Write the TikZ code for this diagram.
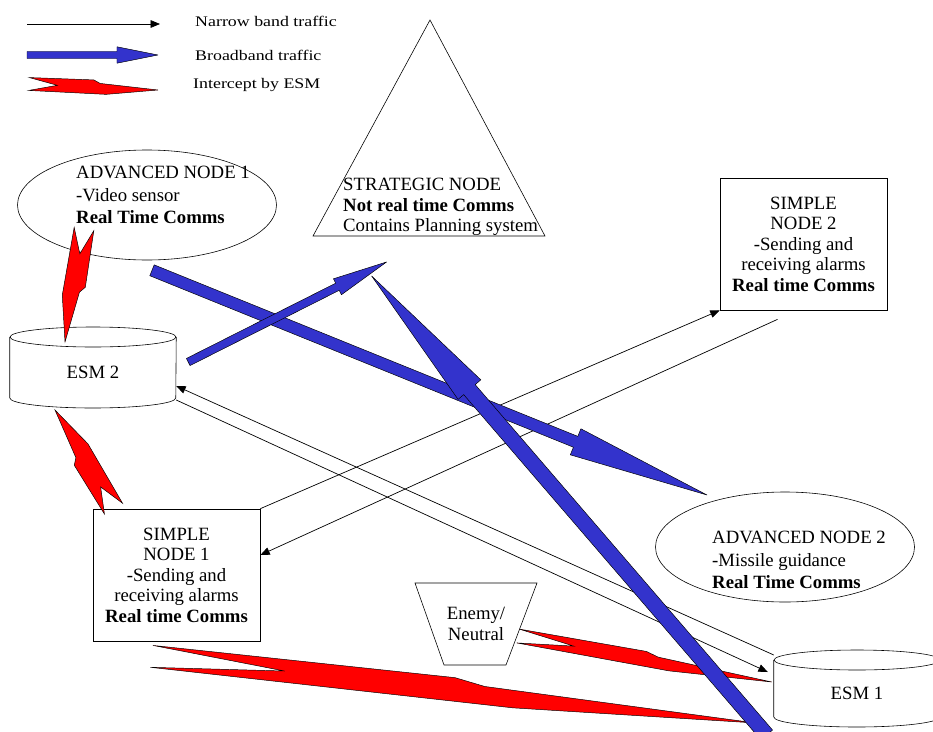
\documentclass[tikz,border=0pt]{standalone}
\usepackage{fontspec}
\setmainfont{Liberation Serif}
\newfontfamily\legendfont{Liberation Serif}[FakeStretch=1.22]
\usetikzlibrary{calc,arrows.meta,shapes.geometric}

\definecolor{bandblue}{RGB}{51,51,204}
\definecolor{esmred}{RGB}{255,0,0}

\tikzset{
  nodetext/.style={font=\fontsize{16}{18}\selectfont, inner sep=0pt},
  legtext/.style={font=\legendfont\fontsize{12.5}{14}\selectfont, anchor=west, inner sep=0pt},
  simplebox/.style={draw, line width=0.6pt, minimum width=5.01cm, minimum height=3.96cm,
    align=center, font=\fontsize{16}{17.5}\selectfont},
  advnode/.style={draw, ellipse, line width=0.5pt, minimum width=7.77cm, minimum height=3.3cm},
  esmnode/.style={minimum width=4.98cm, nodetext},
  outline/.style={line width=0.5pt},
  narrow/.style={line width=0.6pt, -{Triangle[length=8pt,width=6.5pt]}},
  bandarrow/.style={fill=bandblue, draw=black, line width=0.4pt, line join=round},
  intercept/.style={fill=esmred, draw=black, line width=0.4pt},
}

% broadband arrow: from, to, shaft half width, head half width, head length
\newcommand{\bandarr}[5]{%
  \filldraw[bandarrow] ($(#1)!#3!90:(#2)$) -- ($(#2)!#5!(#1)!#3!-90:(#1)$)
    -- ($(#2)!#5!(#1)!#4!-90:(#1)$) -- (#2) -- ($(#2)!#5!(#1)!#4!90:(#1)$)
    -- ($(#2)!#5!(#1)!#3!90:(#1)$) -- ($(#1)!#3!-90:(#2)$) -- cycle;}

% intercept bolt: notched end, tip, half width
\newcommand{\boltarr}[3]{%
  \filldraw[intercept] ($(#1)!#3!90:(#2)$) -- ($(#1)!0.22!(#2)$) -- ($(#1)!#3!-90:(#2)$)
    -- ($(#1)!0.6!(#2)!1.05*#3!-90:(#2)$) -- (#2)
    -- ($(#1)!0.55!(#2)!0.6*#3!90:(#2)$) -- ($(#1)!0.5!(#2)!1.1*#3!90:(#2)$) -- cycle;}

% esm cylinder round a node: node, top offset, bottom offset
\newcommand{\esmcyl}[3]{%
  \draw[outline] ($(#1.west)+(0,#2)$) -- ($(#1.west)+(0,#3)$)
    arc[start angle=180, end angle=360, x radius=2.49cm, y radius=0.3cm]
    -- ($(#1.east)+(0,#2)$);
  \draw[outline] ($(#1.center)+(0,#2)$) ellipse[x radius=2.49cm, y radius=0.3cm];}

\begin{document}
\begin{tikzpicture}[x=0.03cm, y=-0.03cm]
  \useasboundingbox (0,0) rectangle (933,731);

  %% legend
  \node[legtext] (lgnarrow) at (195,21) {Narrow band traffic};
  \node[legtext] (lgbroad) at (195,55) {Broadband traffic};
  \node[legtext] (lgesm) at (193,85) {Intercept by ESM};
  \coordinate (lg1a) at (27,24);  \coordinate (lg1b) at (160,24);
  \coordinate (lg2a) at (27,55);  \coordinate (lg2b) at (158,55);
  \coordinate (lg3a) at (29,84);  \coordinate (lg3b) at (158,90);

  %% nodes
  \node[advnode] (adv1) at (147,205) {};
    \node[nodetext, align=left, anchor=west, font=\fontsize{16}{19}\selectfont] (adv1txt) at (76,195)
      {ADVANCED NODE 1\\-Video sensor\\\textbf{Real Time Comms}};
  \node[advnode] (adv2) at (785,547) {};
    \node[nodetext, align=left, anchor=west, font=\fontsize{16}{19}\selectfont] (adv2txt) at (712,560)
      {ADVANCED NODE 2\\-Missile guidance\\\textbf{Real Time Comms}};

  \coordinate (strtop) at (430,20);
  \coordinate (strleft) at (313,236);
  \coordinate (strright) at (545,236);
  \draw[outline] (strtop) -- (strleft) -- (strright) -- cycle;
    \node[nodetext, align=left, anchor=west, font=\fontsize{16}{17.5}\selectfont] (strat) at (343,207)
      {STRATEGIC NODE\\\textbf{Not real time Comms}\\Contains Planning system};

  \node[simplebox] (simple1) at (176.5,575)
    {SIMPLE\\NODE 1\\-Sending and\\receiving alarms\\\textbf{Real time Comms}};
  \node[simplebox] (simple2) at (803.5,244)
    {SIMPLE\\NODE 2\\-Sending and\\receiving alarms\\\textbf{Real time Comms}};

  \node[esmnode] (esm2) at (93,372) {ESM 2};
    \esmcyl{esm2}{-35}{26}
  \node[esmnode] (esm1) at (857,693) {ESM 1};
    \esmcyl{esm1}{-33}{24}

  \node[nodetext, align=center] (enemy) at (476,624) {Enemy/\\Neutral};
    \draw[outline] ($(enemy)+(-61,-41)$) -- ($(enemy)+(61,-41)$) -- ($(enemy)+(30,41)$)
      -- ($(enemy)+(-32,41)$) -- cycle;

  %% narrow band
  \draw[narrow] (simple1.north east) -- (simple2.south west);
  \draw[narrow] ($(simple2.south)+(-26,9)$) -- ($(simple1.east)+(0,-20)$);
  \draw[narrow] ($(esm1.west)+(0,-38)$) -- ($(esm2.east)+(0,14)$);
  \draw[narrow] ($(esm2.east)+(0,28)$) -- ($(esm1.west)+(-6,-21)$);
  \draw[narrow] (lg1a) -- (lg1b);

  %% intercept
  \coordinate (ia1) at ($(adv1.center)+(-63,24)$);
  \coordinate (ia2) at ($(esm2.center)+(-28,-30)$);
  \boltarr{ia1}{ia2}{8.5pt}
  \coordinate (ib1) at ($(simple1.north)+(-63,0)$);
  \coordinate (ib2) at ($(esm2.center)+(-38,38)$);
  \boltarr{ib1}{ib2}{9pt}
  \coordinate (en1) at ($(enemy.center)+(42,12)$);
  \coordinate (en2) at ($(esm1.west)+(-2,-11)$);
  \boltarr{en1}{en2}{6pt}
  \coordinate (sb1) at ($(simple1.south west)+(59,15)$);
  \coordinate (sb2) at ($(esm1.west)+(-18,30)$);
  \boltarr{sb1}{sb2}{9.4pt}
  \boltarr{lg3a}{lg3b}{5.5pt}

  %% broadband
  \coordinate (bb1a) at ($(adv1.south)+(5,10)$);
  \coordinate (bb1b) at ($(adv2.center)+(-78,-52)$);
  \bandarr{bb1a}{bb1b}{5pt}{12pt}{121pt}
  \coordinate (bb2a) at ($(esm2.east)+(12,-10)$);
  \coordinate (bb2b) at ($(strat.south)+(-54,26)$);
  \bandarr{bb2a}{bb2b}{3.4pt}{7.6pt}{47pt}
  \coordinate (bb3a) at ($(esm1.west)+(-7,42)$);
  \coordinate (bb3b) at ($(strat.south)+(-69,40)$);
  \bandarr{bb3a}{bb3b}{6.5pt}{12.8pt}{128pt}
  \bandarr{lg2a}{lg2b}{3pt}{7pt}{35pt}
\end{tikzpicture}
\end{document}
